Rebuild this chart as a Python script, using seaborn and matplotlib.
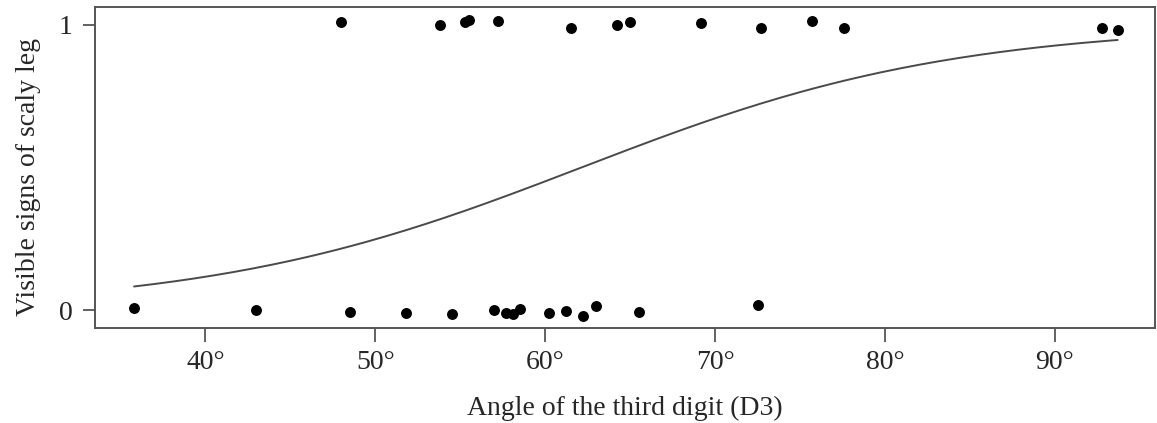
import numpy as np
import pandas as pd
import matplotlib
matplotlib.use('Agg')
import matplotlib.pyplot as plt
import seaborn as sns

# angles (D3) of specimens with visible scaly leg signs (outcome 1)
angle_yes = [48.0, 53.8, 55.3, 55.5, 57.2, 61.5, 64.2, 65.0, 69.2,
             72.7, 75.7, 77.6, 92.8, 93.7]
jitter_yes = [0.011, 0.0, 0.011, 0.018, 0.015, -0.012, 0.0, 0.011, 0.006,
              -0.012, 0.015, -0.012, -0.012, -0.018]

# angles of specimens without visible signs (outcome 0)
angle_no = [35.8, 43.0, 48.5, 51.8, 54.5, 57.0, 57.7, 58.1, 58.5,
            60.2, 61.2, 62.2, 63.0, 65.5, 72.5]
jitter_no = [0.006, 0.0, -0.006, -0.009, -0.014, 0.0, -0.009, -0.014, 0.005,
             -0.009, -0.002, -0.02, 0.013, -0.008, 0.018]

xticks = [40, 50, 60, 70, 80, 90]
yticks = [0, 1]

df = pd.DataFrame({
    'angle': angle_yes + angle_no,
    'outcome': [1] * len(angle_yes) + [0] * len(angle_no),
    'jitter': jitter_yes + jitter_no,
})
df['y'] = df['outcome'] + df['jitter']

# logistic regression fit (IRLS)
X = np.column_stack([np.ones(len(df)), df['angle'].values])
yv = df['outcome'].values
beta = np.zeros(2)
for _ in range(50):
    p = 1 / (1 + np.exp(-X @ beta))
    W = p * (1 - p)
    H = X.T @ (X * W[:, None])
    beta = beta + np.linalg.solve(H, X.T @ (yv - p))

grid = np.linspace(df['angle'].min(), df['angle'].max(), 200)
fit = pd.DataFrame({'angle': grid,
                    'p': 1 / (1 + np.exp(-(beta[0] + beta[1] * grid)))})

sns.set_style('white')
plt.rcParams['font.family'] = ['Liberation Serif', 'DejaVu Serif']

fig = plt.figure(figsize=(11.57, 4.23), dpi=100)
ax = fig.add_axes([0.0821, 0.2246, 0.9162, 0.7577])

sns.lineplot(data=fit, x='angle', y='p', color='#4a4a4a', linewidth=1.4, ax=ax)
sns.scatterplot(data=df, x='angle', y='y', color='black', s=62,
                edgecolor='black', linewidth=0, ax=ax, zorder=3)

ax.set_xlim(33.5, 95.9)
ax.set_ylim(-0.063, 1.061)
ax.set_xticks(xticks)
ax.set_xticklabels([f'{t}°' for t in xticks])
ax.set_yticks(yticks)
ax.set_yticklabels([str(t) for t in yticks])
ax.tick_params(axis='both', direction='out', width=1.3,
               color='#555555', labelsize=20)
ax.tick_params(axis='x', length=10, pad=6)
ax.tick_params(axis='y', length=9, pad=7)
ax.tick_params(bottom=True, left=True)
for sp in ax.spines.values():
    sp.set_color('#555555')
    sp.set_linewidth(1.4)

ax.set_xlabel('Angle of the third digit (D3)', fontsize=20, labelpad=15)
ax.set_ylabel('Visible signs of scaly leg', fontsize=20, labelpad=13)
ax.yaxis.label.set_y(0.47)

fig.savefig('out.png', dpi=100)
